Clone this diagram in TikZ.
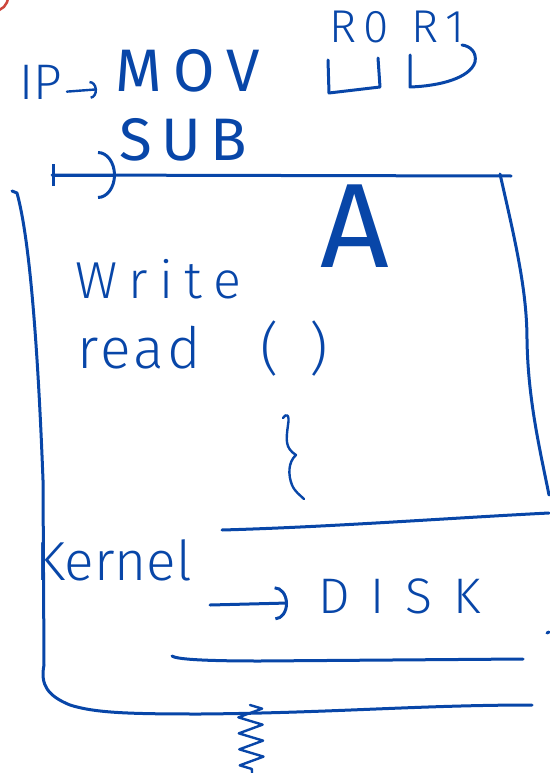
\documentclass[tikz,border=0pt]{standalone}
\usepackage{fontspec}
\setmainfont{Fira Sans Light}
\newfontfamily\heavyink{Fira Sans}
\usetikzlibrary{arrows.meta, decorations.pathmorphing}
\definecolor{penblue}{RGB}{8, 70, 168}
\definecolor{penred}{RGB}{205, 70, 60}
\newcommand{\inksize}[1]{\fontsize{#1}{#1}\selectfont}
\tikzset{
    pen/.style={draw=penblue, line width=3pt, line cap=round, line join=round},
    hand/.style={text=penblue, inner sep=0pt, anchor=base west},
    spring/.style={decorate, decoration={zigzag, amplitude=12pt, segment length=16pt}},
    scribble/.style={-{Arc Barb[length=13pt, width=34pt]}}
}

\begin{document}
\begin{tikzpicture}[x=1pt, y=-1pt]
    \useasboundingbox (0,0) rectangle (549,773);

    % red pen mark in the corner
    \draw[penred, line width=2.5pt] (-6,-3) circle (14pt);

    % the instruction stream
    \node[hand, font=\inksize{50}] (ip) at (19,100) {IP};
    \node[hand, font=\heavyink\inksize{60}\addfontfeature{LetterSpace=20}] (mov) at (115,92) {MOV};
    \node[hand, font=\heavyink\inksize{60}\addfontfeature{LetterSpace=16}] (sub) at (119,160) {SUB};
    \draw[pen, line width=2.4pt, -{Arc Barb[length=7pt, width=18pt]}, shorten <=5pt, shorten >=18pt] ([yshift=8pt]ip.base east) -- ([yshift=4pt]mov.base west);

    % registers
    \node[hand, font=\inksize{46}\addfontfeature{LetterSpace=16}] (r0) at (329,43) {R0};
    \node[hand, font=\inksize{46}\addfontfeature{LetterSpace=16}] (r1) at (411,43) {R1};
    \draw[pen] (328,60) -- (329,93) -- (380,87) -- (378,58);
    \draw[pen] (410,55) -- (410,87) .. controls (440,86) and (470,78) .. (475,62) .. controls (477,52) and (470,46) .. (462,45);

    % process box
    \coordinate (jump) at (52,175);
    \coordinate (top) at (511,176);
    \draw[pen] (jump) -- (top);
    \draw[pen, {Bar[width=22pt]}-{Arc Barb[length=18pt, width=48pt]}] (jump) -- ++(64,0);
    \draw[pen] (500,174) .. controls (515,240) and (527,290) .. (527,340) .. controls (528,400) and (540,450) .. (549,495);
    \draw[pen] (12,191) -- (17,193) .. controls (30,240) and (38,350) .. (43,480) -- (44,665)
        .. controls (40,685) and (48,696) .. (70,705) .. controls (95,713) and (130,714) .. (200,714)
        .. controls (330,713) and (420,705) .. (532,705);

    \node[hand, font=\heavyink\inksize{120}] (proc) at (320,267) {A};
    \node[hand, font=\inksize{52}\addfontfeature{LetterSpace=22}] (write) at (75,298) {Write};
    \node[hand, font=\inksize{57}\addfontfeature{LetterSpace=6}] (read) at (77,368) {read\hspace{60pt}(\hspace{30pt})};
    \draw[pen, line width=2.4pt] (283,418) .. controls (286,413) and (290,414) .. (288,425) .. controls (286,440) and (285,448) .. (296,455)
        .. controls (288,462) and (288,475) .. (292,485) .. controls (295,492) and (300,495) .. (304,499);

    % kernel part
    \draw[pen] (222,530) .. controls (330,527) and (450,518) .. (549,513);
    \node[hand, font=\inksize{55}] (kern) at (35,580) {Kernel};
    \node[hand, font=\inksize{50}\addfontfeature{LetterSpace=42}] (disk) at (318,613) {DISK};
    \coordinate (req) at (210,605);
    \draw[pen, scribble] (req) -- ([xshift=-30pt, yshift=10pt]disk.base west);
    \draw[pen] (172,656) .. controls (176,659) and (200,661) .. (260,661) -- (523,659);
    \draw[pen] (547,633) -- (549,632);

    % spring under the box
    \draw[pen, line width=2.4pt, spring] (250,705) -- (252,773);
\end{tikzpicture}
\end{document}
